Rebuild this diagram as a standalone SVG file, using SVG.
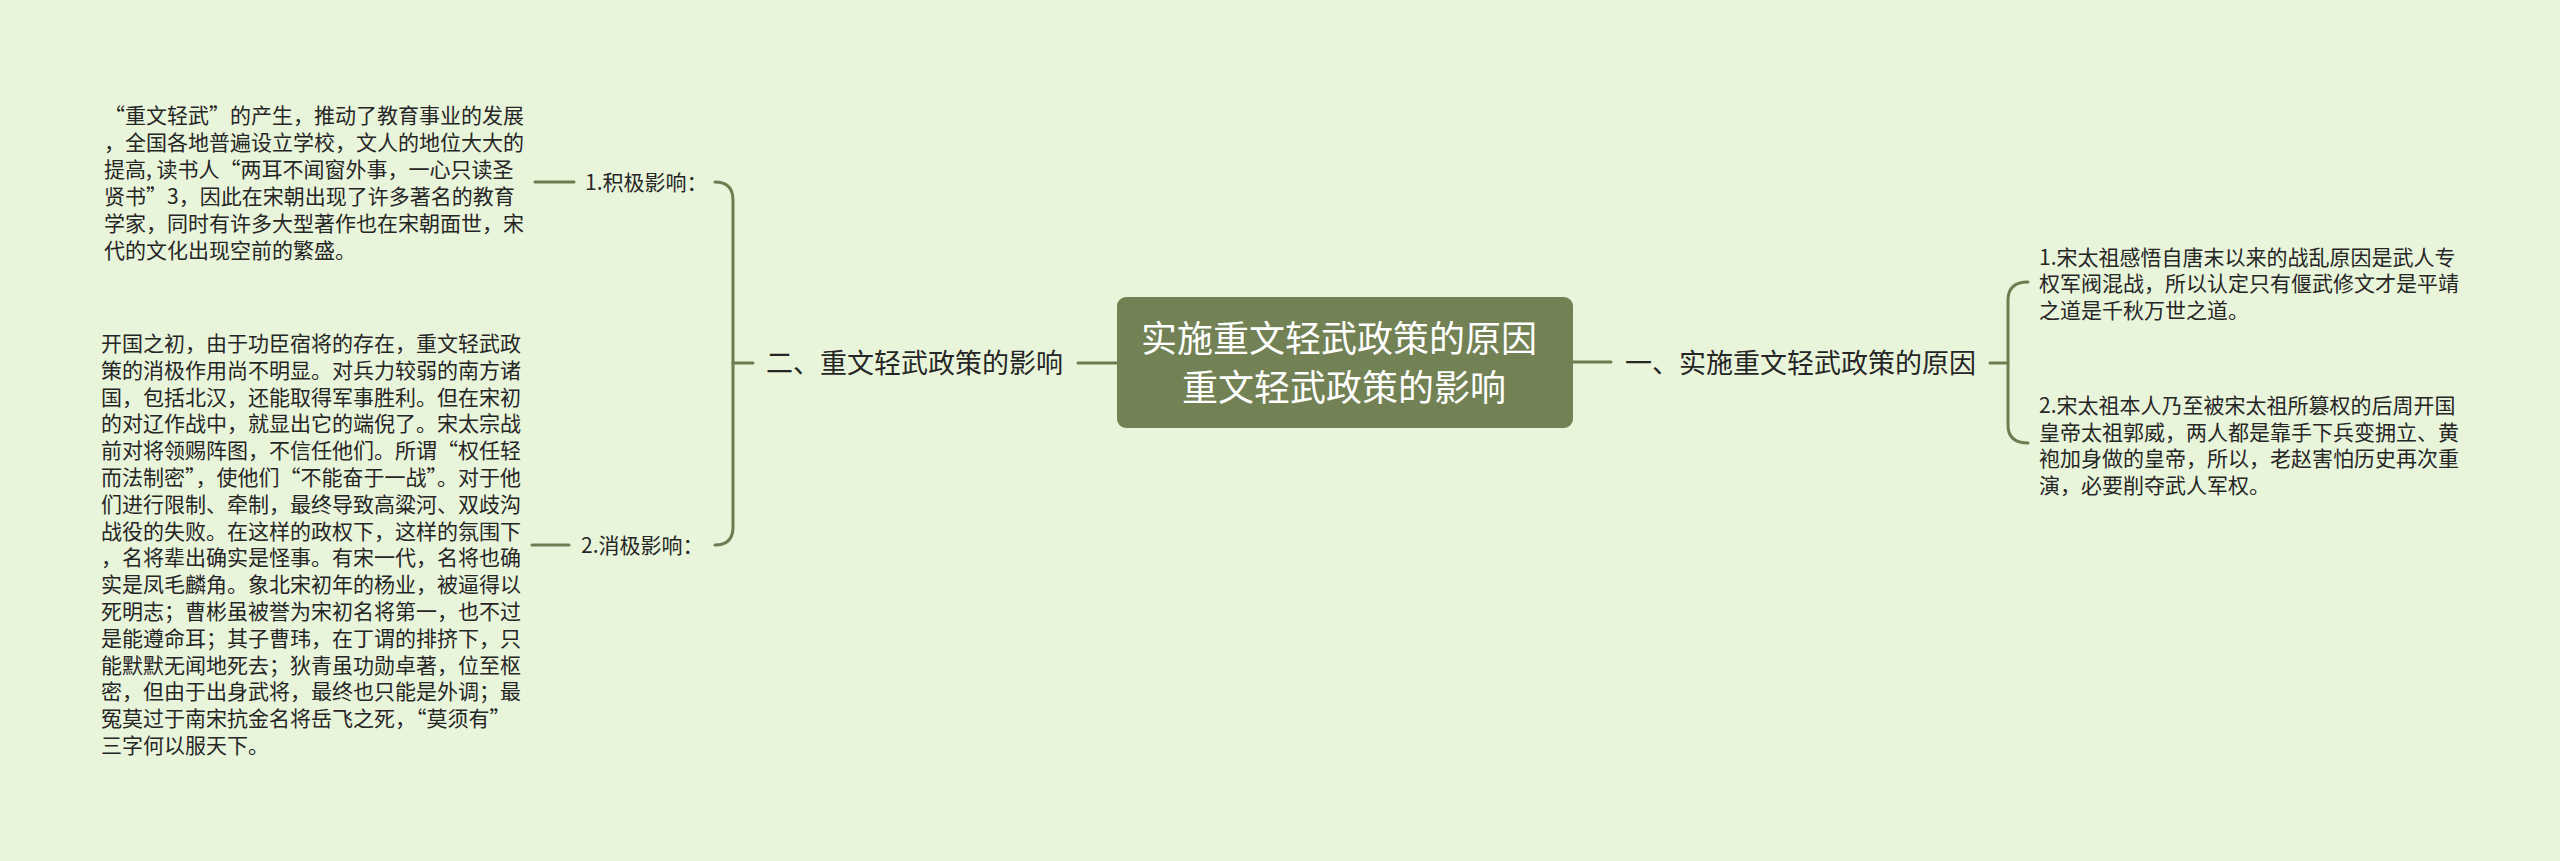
<svg xmlns="http://www.w3.org/2000/svg" width="2560" height="861" viewBox="0 0 2560 861">
<style>
.t{font-family:"Noto Sans CJK SC","Noto Sans",sans-serif;fill:#262626}
.s{font-size:21px}
.b{font-size:27px}
.r{font-size:36px;fill:#ffffff;text-anchor:middle}
.c{fill:none;stroke:#6e7d50;stroke-width:3;stroke-linecap:round}
</style>
<rect x="0" y="0" width="2560" height="861" fill="#e9f5db"/>
<g id="connectors">
<path class="c" d="M1078 363 L1117 363"/>
<path class="c" d="M1573 362 L1611 362"/>
<path class="c" d="M753 363 L733 363"/>
<path class="c" d="M715 182 Q733 182 733 200 L733 527 Q733 545 715 545"/>
<path class="c" d="M535 182 L574 182"/>
<path class="c" d="M532 545 L569 545"/>
<path class="c" d="M1990 363 L2008 363"/>
<path class="c" d="M2028 282 Q2008 282 2008 300 L2008 425 Q2008 443 2028 443"/>
</g>
<g id="root">
<rect x="1117" y="297" width="456" height="131" rx="9" fill="#738255"/>
<text class="t r" x="1339" y="351.5">实施重文轻武政策的原因</text>
<text class="t r" x="1344" y="400.5">重文轻武政策的影响</text>
</g>
<g id="branch-reason">
<text class="t b" x="1625" y="373">一、实施重文轻武政策的原因</text>
</g>
<g id="branch-impact">
<text class="t b" x="766" y="373">二、重文轻武政策的影响</text>
</g>
<g id="reason-1">
<text class="t s" x="2039" y="264.7"><tspan x="2039">1.宋太祖感悟自唐末以来的战乱原因是武人专</tspan><tspan x="2039" dy="26.7">权军阀混战，所以认定只有偃武修文才是平靖</tspan><tspan x="2039" dy="26.7">之道是千秋万世之道。</tspan></text>
</g>
<g id="reason-2">
<text class="t s" x="2039" y="413"><tspan x="2039">2.宋太祖本人乃至被宋太祖所篡权的后周开国</tspan><tspan x="2039" dy="26.7">皇帝太祖郭威，两人都是靠手下兵变拥立、黄</tspan><tspan x="2039" dy="26.7">袍加身做的皇帝，所以，老赵害怕历史再次重</tspan><tspan x="2039" dy="26.7">演，必要削夺武人军权。</tspan></text>
</g>
<g id="impact-positive">
<text class="t s" x="585" y="190">1.积极影响：</text>
</g>
<g id="impact-negative">
<text class="t s" x="581" y="553">2.消极影响：</text>
</g>
<g id="positive-detail">
<text class="t s" x="104" y="123"><tspan x="104">“重文轻武”的产生，推动了教育事业的发展</tspan><tspan x="104" dy="26.9">，全国各地普遍设立学校，文人的地位大大的</tspan><tspan x="104" dy="26.9">提高, 读书人“两耳不闻窗外事，一心只读圣</tspan><tspan x="104" dy="26.9">贤书”3，因此在宋朝出现了许多著名的教育</tspan><tspan x="104" dy="26.9">学家，同时有许多大型著作也在宋朝面世，宋</tspan><tspan x="104" dy="26.9">代的文化出现空前的繁盛。</tspan></text>
</g>
<g id="negative-detail">
<text class="t s" x="101" y="351"><tspan x="101">开国之初，由于功臣宿将的存在，重文轻武政</tspan><tspan x="101" dy="26.8">策的消极作用尚不明显。对兵力较弱的南方诸</tspan><tspan x="101" dy="26.8">国，包括北汉，还能取得军事胜利。但在宋初</tspan><tspan x="101" dy="26.8">的对辽作战中，就显出它的端倪了。宋太宗战</tspan><tspan x="101" dy="26.8">前对将领赐阵图，不信任他们。所谓“权任轻</tspan><tspan x="101" dy="26.8">而法制密”，使他们“不能奋于一战”。对于他</tspan><tspan x="101" dy="26.8">们进行限制、牵制，最终导致高粱河、双歧沟</tspan><tspan x="101" dy="26.8">战役的失败。在这样的政权下，这样的氛围下</tspan><tspan x="101" dy="26.8">，名将辈出确实是怪事。有宋一代，名将也确</tspan><tspan x="101" dy="26.8">实是凤毛麟角。象北宋初年的杨业，被逼得以</tspan><tspan x="101" dy="26.8">死明志；曹彬虽被誉为宋初名将第一，也不过</tspan><tspan x="101" dy="26.8">是能遵命耳；其子曹玮，在丁谓的排挤下，只</tspan><tspan x="101" dy="26.8">能默默无闻地死去；狄青虽功勋卓著，位至枢</tspan><tspan x="101" dy="26.8">密，但由于出身武将，最终也只能是外调；最</tspan><tspan x="101" dy="26.8">冤莫过于南宋抗金名将岳飞之死，“莫须有”</tspan><tspan x="101" dy="26.8">三字何以服天下。</tspan></text>
</g>
</svg>
